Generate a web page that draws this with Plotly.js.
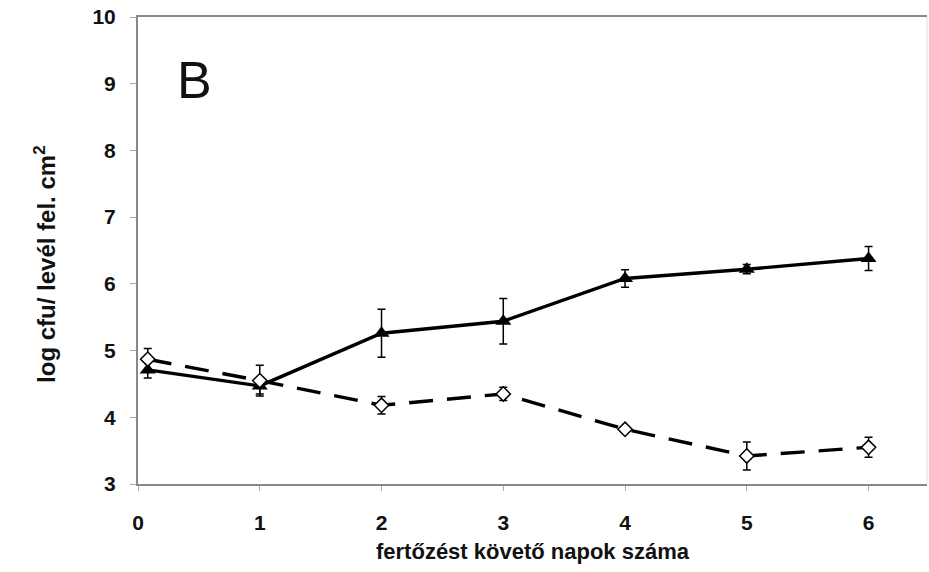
<!DOCTYPE html>
<html>
<head>
<meta charset="utf-8">
<script src="https://cdn.plot.ly/plotly-3.0.1.min.js"></script>
<style>html,body{margin:0;padding:0;background:#fff;}#chart{width:929px;height:572px;}</style>
</head>
<body>
<div id="chart"></div>
<script>
// Days after infection (first sampling a couple of hours after inoculation)
const days = [0.08, 1, 2, 3, 4, 5, 6];

// Solid line, filled triangles
const seriesA = [4.71, 4.47, 5.26, 5.44, 6.08, 6.22, 6.38];
const errA    = [0.12, 0.12, 0.36, 0.34, 0.13, 0.07, 0.18];

// Dashed line, open diamonds
const seriesB = [4.87, 4.55, 4.18, 4.35, 3.82, 3.42, 3.55];
const errB    = [0.16, 0.23, 0.13, 0.10, 0.04, 0.21, 0.15];

const yTicks = [3, 4, 5, 6, 7, 8, 9, 10];
const xTicks = [0, 1, 2, 3, 4, 5, 6];

const fontFam = 'Liberation Sans, Arial, sans-serif';

const traces = [
  {
    x: days, y: seriesA, type: 'scatter', mode: 'lines+markers',
    line: {color: '#000', width: 3.4},
    marker: {symbol: 'triangle-up', size: 14, color: '#000'},
    error_y: {type: 'data', array: errA, visible: true, color: '#000', thickness: 1.5, width: 4}
  },
  {
    x: days, y: seriesB, type: 'scatter', mode: 'lines+markers',
    line: {color: '#000', width: 3.4, dash: '24px,14px'},
    marker: {symbol: 'diamond', size: 11, color: '#fff', line: {color: '#000', width: 1.5}},
    error_y: {type: 'data', array: errB, visible: true, color: '#000', thickness: 1.5, width: 4}
  }
];

const layout = {
  width: 929, height: 572,
  margin: {l: 138, r: 2, t: 17, b: 88},
  paper_bgcolor: '#fff', plot_bgcolor: '#fff',
  showlegend: false,
  xaxis: {
    range: [0, 6.48], tickvals: xTicks,
    showgrid: false, zeroline: false,
    showline: true, linecolor: '#888', linewidth: 2, mirror: true,
    ticks: 'outside', ticklen: 5, tickcolor: '#aaa', tickwidth: 1,
    ticklabelstandoff: 14,
    tickfont: {family: fontFam, size: 21, color: '#111', weight: 'bold'},
    title: {text: 'fertőzést követő napok száma', standoff: 10,
            font: {family: fontFam, size: 22, color: '#111', weight: 'bold'}}
  },
  yaxis: {
    range: [3, 10], tickvals: yTicks,
    showgrid: false, zeroline: false,
    showline: true, linecolor: '#888', linewidth: 2,
    ticks: 'outside', ticklen: 6, tickcolor: '#aaa', tickwidth: 1,
    ticklabelstandoff: 10,
    tickfont: {family: fontFam, size: 21, color: '#111', weight: 'bold'}
  },
  shapes: [
    {type: 'line', xref: 'paper', yref: 'paper', x0: 1, x1: 1, y0: 0, y1: 1,
     line: {color: '#ddd', width: 1}}
  ],
  annotations: [
    {text: 'B', xref: 'paper', yref: 'paper', x: 0.072, y: 0.865,
     xanchor: 'center', yanchor: 'middle', showarrow: false,
     font: {family: fontFam, size: 52, color: '#111'}},
    // y-axis title, placed slightly below the plot's vertical centre
    {text: 'log cfu/ levél fel. cm<sup>2</sup>', xref: 'paper', yref: 'paper',
     x: -0.118, y: 0.471, xanchor: 'center', yanchor: 'middle', textangle: -90,
     showarrow: false,
     font: {family: fontFam, size: 24, color: '#111', weight: 'bold'}}
  ]
};

Plotly.newPlot('chart', traces, layout, {displayModeBar: false, staticPlot: true});
</script>
</body>
</html>
